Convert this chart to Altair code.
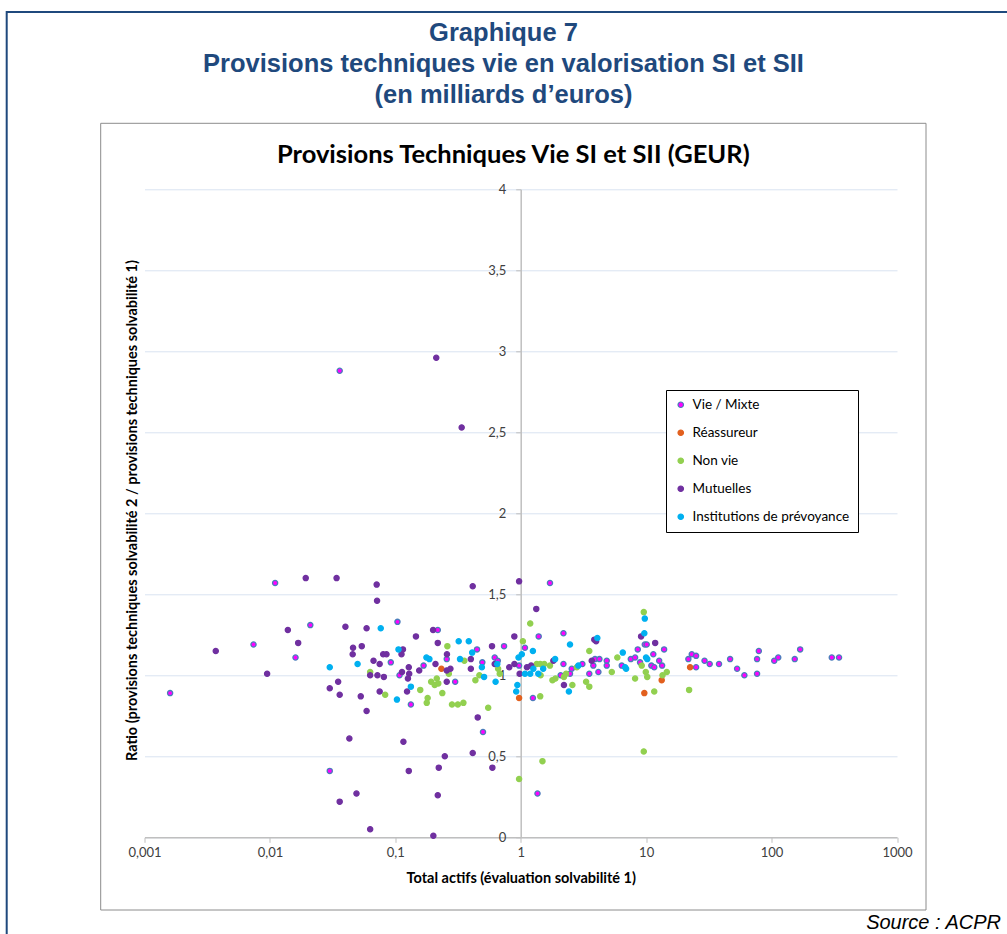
import altair as alt
import pandas as pd

# ---------------- data ----------------
categories = ["Vie / Mixte", "Réassureur", "Non vie", "Mutuelles", "Institutions de prévoyance"]
fill_colors = ["#FF00FF", "#E2601E", "#92D050", "#7030A0", "#00B0F0"]
stroke_colors = ["#4A7EBB", "#E2601E", "#92D050", "#7030A0", "#00B0F0"]

vie_x = [0.0016, 0.0074, 0.011, 0.016, 0.021, 0.030, 0.036, 0.104, 0.092, 0.108,
         0.133, 0.168, 0.218, 0.257, 0.30, 0.448, 0.494, 0.50, 0.736, 0.62,
         0.656, 1.08, 0.97, 1.71, 1.39, 2.19, 2.19, 1.25, 1.36, 2.08,
         2.47, 2.55, 3.10, 3.91, 4.24, 3.79, 3.52, 4.16, 4.85, 4.85,
         6.39, 7.54, 8.16, 8.57, 9.75, 10.1, 8.94, 13.9, 11.4, 12.7,
         11.0, 11.6, 13.4, 21.7, 23.1, 25.0, 25.0, 29.2, 32.1, 38.1,
         46.7, 53.1, 60.7, 76.6, 76.6, 79.1, 105, 113, 153, 169,
         302, 345]
vie_y = [0.89, 1.19, 1.57, 1.11, 1.31, 0.41, 2.88, 1.33, 1.08, 1.00,
         0.82, 1.06, 1.28, 1.10, 0.96, 1.16, 1.08, 0.65, 1.18, 1.11,
         1.09, 1.17, 1.06, 1.57, 1.24, 1.26, 1.07, 0.86, 0.27, 1.00,
         1.01, 1.04, 1.07, 1.10, 1.10, 1.06, 1.01, 1.02, 1.09, 1.06,
         1.06, 1.10, 1.11, 1.16, 1.19, 1.19, 1.08, 1.16, 1.13, 1.09,
         1.06, 1.05, 1.06, 1.10, 1.13, 1.12, 1.05, 1.09, 1.07, 1.07,
         1.10, 1.04, 1.00, 1.01, 1.10, 1.15, 1.09, 1.11, 1.10, 1.16,
         1.11, 1.11]

reass_x = [0.233, 0.97, 13.3, 9.67, 22.4]
reass_y = [1.04, 0.86, 0.97, 0.89, 1.05]

nonvie_x = [0.063, 0.083, 0.26, 0.267, 0.193, 0.214, 0.206, 0.22, 0.158, 0.237,
            0.181, 0.178, 0.283, 0.315, 0.349, 0.55, 0.355, 0.468, 0.435, 0.66,
            0.68, 1.19, 1.04, 0.97, 1.34, 1.43, 1.54, 1.71, 1.44, 3.52,
            2.21, 2.30, 2.80, 1.89, 1.79, 2.58, 3.32, 3.52, 1.43, 5.32,
            5.89, 9.57, 9.22, 9.93, 10.2, 8.16, 13.5, 14.6, 11.6, 9.57,
            22.0, 1.49]
nonvie_y = [1.02, 0.88, 1.18, 1.01, 0.96, 0.98, 0.94, 0.95, 0.91, 0.89,
            0.86, 0.83, 0.82, 0.82, 0.83, 0.80, 1.09, 1.00, 0.97, 1.04,
            1.01, 1.32, 1.21, 0.36, 1.07, 1.07, 1.07, 1.06, 1.00, 1.15,
            0.99, 1.01, 1.05, 0.98, 0.97, 0.94, 0.96, 0.93, 0.87, 1.02,
            1.11, 1.39, 1.06, 1.02, 0.99, 0.98, 1.00, 1.02, 0.90, 0.53,
            0.91, 0.47]

mut_x = [0.0037, 0.0095, 0.0139, 0.0168, 0.0193, 0.034, 0.035, 0.030, 0.036, 0.036,
         0.071, 0.0715, 0.414, 0.97, 0.040, 0.059, 0.146, 0.20, 0.218, 0.889,
         0.046, 0.054, 0.0457, 0.067, 0.075, 0.080, 0.085, 0.115, 0.112, 0.128,
         0.129, 0.126, 0.113, 0.063, 0.072, 0.081, 0.053, 0.075, 0.124, 0.059,
         0.155, 0.209, 0.257, 0.275, 0.258, 0.257, 0.40, 0.40, 0.59, 0.62,
         0.81, 0.89, 0.98, 1.12, 1.21, 0.454, 0.043, 0.116, 0.248, 0.414,
         0.222, 0.594, 0.128, 0.049, 0.218, 0.063, 0.201, 0.212, 0.338, 1.33,
         1.82, 2.21, 3.86, 3.99, 3.68, 9.11, 11.8]
mut_y = [1.15, 1.01, 1.28, 1.20, 1.60, 1.60, 0.96, 0.92, 0.88, 0.22,
         1.56, 1.46, 1.55, 1.58, 1.30, 1.29, 1.24, 1.28, 1.20, 1.24,
         1.17, 1.18, 1.13, 1.09, 1.07, 1.13, 1.13, 1.16, 1.13, 1.05,
         1.01, 0.98, 1.02, 1.00, 1.00, 0.99, 0.87, 0.90, 0.90, 0.78,
         1.03, 1.07, 1.03, 1.04, 1.13, 0.96, 1.10, 1.04, 1.18, 1.07,
         1.05, 1.07, 1.01, 1.05, 1.06, 0.74, 0.61, 0.59, 0.50, 0.52,
         0.43, 0.43, 0.41, 0.27, 0.26, 0.05, 0.01, 2.96, 2.53, 1.41,
         1.09, 0.94, 1.22, 1.21, 1.09, 1.24, 1.20]

inst_x = [0.030, 0.0765, 0.32, 0.385, 0.050, 0.106, 0.133, 0.103, 0.177, 0.187,
          0.328, 0.41, 0.49, 0.51, 0.65, 0.63, 0.96, 1.02, 1.08, 0.94,
          0.92, 1.25, 1.26, 1.51, 1.38, 1.19, 2.47, 1.88, 2.88, 2.42,
          4.08, 6.51, 6.79, 6.92, 9.67, 9.75, 9.98, 10.2]
inst_y = [1.05, 1.29, 1.21, 1.21, 1.07, 1.16, 0.93, 0.85, 1.11, 1.10,
          1.10, 1.14, 1.05, 0.99, 1.07, 0.96, 1.11, 1.13, 1.01, 0.94,
          0.90, 1.15, 1.04, 1.04, 1.01, 1.01, 1.19, 1.10, 1.06, 0.90,
          1.23, 1.14, 1.05, 1.04, 1.26, 1.35, 1.11, 1.10]

x_ticks = [0.001, 0.01, 0.1, 1, 10, 100, 1000]
y_ticks = [0, 0.5, 1, 1.5, 2, 2.5, 3, 3.5, 4]

title_lines = ["Graphique 7",
               "Provisions techniques vie en valorisation SI et SII",
               "(en milliards d\u2019euros)"]
inner_title = "Provisions Techniques Vie SI et SII (GEUR)"
x_title = "Total actifs (évaluation solvabilité 1)"
y_title = "Ratio (provisions techniques solvabilité 2 / provisions techniques solvabilité 1)"
source_text = "Source : ACPR"

# ---------------- table ----------------
series = [(categories[0], vie_x, vie_y), (categories[1], reass_x, reass_y),
          (categories[2], nonvie_x, nonvie_y), (categories[3], mut_x, mut_y),
          (categories[4], inst_x, inst_y)]
df = pd.concat([pd.DataFrame({"x": xs, "y": ys, "type": name}) for name, xs, ys in series],
               ignore_index=True)

# ---------------- layout (pixels) ----------------
PAD_L, PAD_T = 144.5, 189.3
W, H = 752.5, 648
PAD_R, PAD_B = 1007 - PAD_L - W, 934 - PAD_T - H
AXIS_X = 376.2  # pixel position of x = 1 inside the plot area

one = alt.Data(values=[{}])

outer_frame = alt.Chart(one).mark_rect(fill="transparent", stroke="#1F497D", strokeWidth=2).encode(
    x=alt.value(6.7 - PAD_L), x2=alt.value(1030 - PAD_L),
    y=alt.value(12 - PAD_T), y2=alt.value(960 - PAD_T))

inner_frame = alt.Chart(one).mark_rect(fill="transparent", stroke="#8C8C8C", strokeWidth=1).encode(
    x=alt.value(100.7 - PAD_L), x2=alt.value(926 - PAD_L),
    y=alt.value(123.3 - PAD_T), y2=alt.value(910 - PAD_T))

main_title = alt.Chart(one).mark_text(
    text=title_lines, font="Liberation Sans", fontSize=25.5, fontWeight="bold",
    color="#1F497D", align="center", baseline="alphabetic", lineHeight=31
).encode(x=alt.value(503.5 - PAD_L), y=alt.value(40.5 - PAD_T))

chart_title = alt.Chart(one).mark_text(
    text=inner_title, font="Lato", fontSize=25.5, fontWeight="bold",
    color="black", align="center", baseline="alphabetic"
).encode(x=alt.value(513.3 - PAD_L), y=alt.value(163 - PAD_T))

source = alt.Chart(one).mark_text(
    text=source_text, font="Liberation Sans", fontSize=20, fontStyle="italic",
    color="black", align="right", baseline="alphabetic"
).encode(x=alt.value(1001 - PAD_L), y=alt.value(928.5 - PAD_T))

legend = alt.Legend(
    title=None, orient="none", legendX=666 - PAD_L, legendY=390 - PAD_T,
    padding=8, strokeColor="black", fillColor="white", cornerRadius=0,
    labelFont="Lato", labelFontSize=13.5, labelColor="black", labelLimit=400,
    symbolType="circle", symbolSize=30, symbolStrokeWidth=1.2, symbolOpacity=1,
    rowPadding=13, labelOffset=5)

points = alt.Chart(df).mark_circle(size=27, strokeWidth=1.3, opacity=1).encode(
    x=alt.X("x:Q",
            scale=alt.Scale(type="log", domain=[0.001, 1000], nice=False),
            axis=alt.Axis(values=x_ticks, labelExpr="replace(toString(datum.value), '.', ',')",
                          grid=False, domainColor="#BFBFBF", domainWidth=1.5,
                          tickColor="#BFBFBF", tickWidth=1, tickSize=5,
                          labelFont="Lato", labelFontSize=13, labelColor="#404040",
                          labelPadding=4, labelFlush=False,
                          title=x_title, titleFont="Lato", titleFontSize=14.5,
                          titleFontWeight="bold", titleColor="black", titlePadding=12)),
    y=alt.Y("y:Q",
            scale=alt.Scale(domain=[0, 4], nice=False, zero=False),
            axis=alt.Axis(values=y_ticks, labelExpr="replace(toString(datum.value), '.', ',')",
                          offset=-AXIS_X, grid=True, gridColor="#D9E3F1", gridWidth=1,
                          domainColor="#BFBFBF", domainWidth=1.5,
                          tickColor="#BFBFBF", tickWidth=1, tickSize=5,
                          labelFont="Lato", labelFontSize=13, labelColor="#404040",
                          labelPadding=10, labelFlush=False,
                          title=y_title, titleFont="Lato", titleFontSize=14.5,
                          titleFontWeight="bold", titleColor="black",
                          titleAngle=270, titleAlign="center", titleBaseline="middle",
                          titleX=132 - PAD_L - AXIS_X, titleY=510 - PAD_T)),
    fill=alt.Fill("type:N", scale=alt.Scale(domain=categories, range=fill_colors), legend=legend),
    stroke=alt.Stroke("type:N", scale=alt.Scale(domain=categories, range=stroke_colors), legend=legend),
)

chart = alt.layer(outer_frame, inner_frame, main_title, chart_title, points, source).properties(
    width=W, height=H,
    padding={"left": PAD_L, "top": PAD_T, "right": PAD_R, "bottom": PAD_B},
    autosize=alt.AutoSizeParams(type="none"),
    background="white",
).configure_view(stroke=None)

chart.save("out.html", embed_options={"renderer": "svg", "actions": False})
